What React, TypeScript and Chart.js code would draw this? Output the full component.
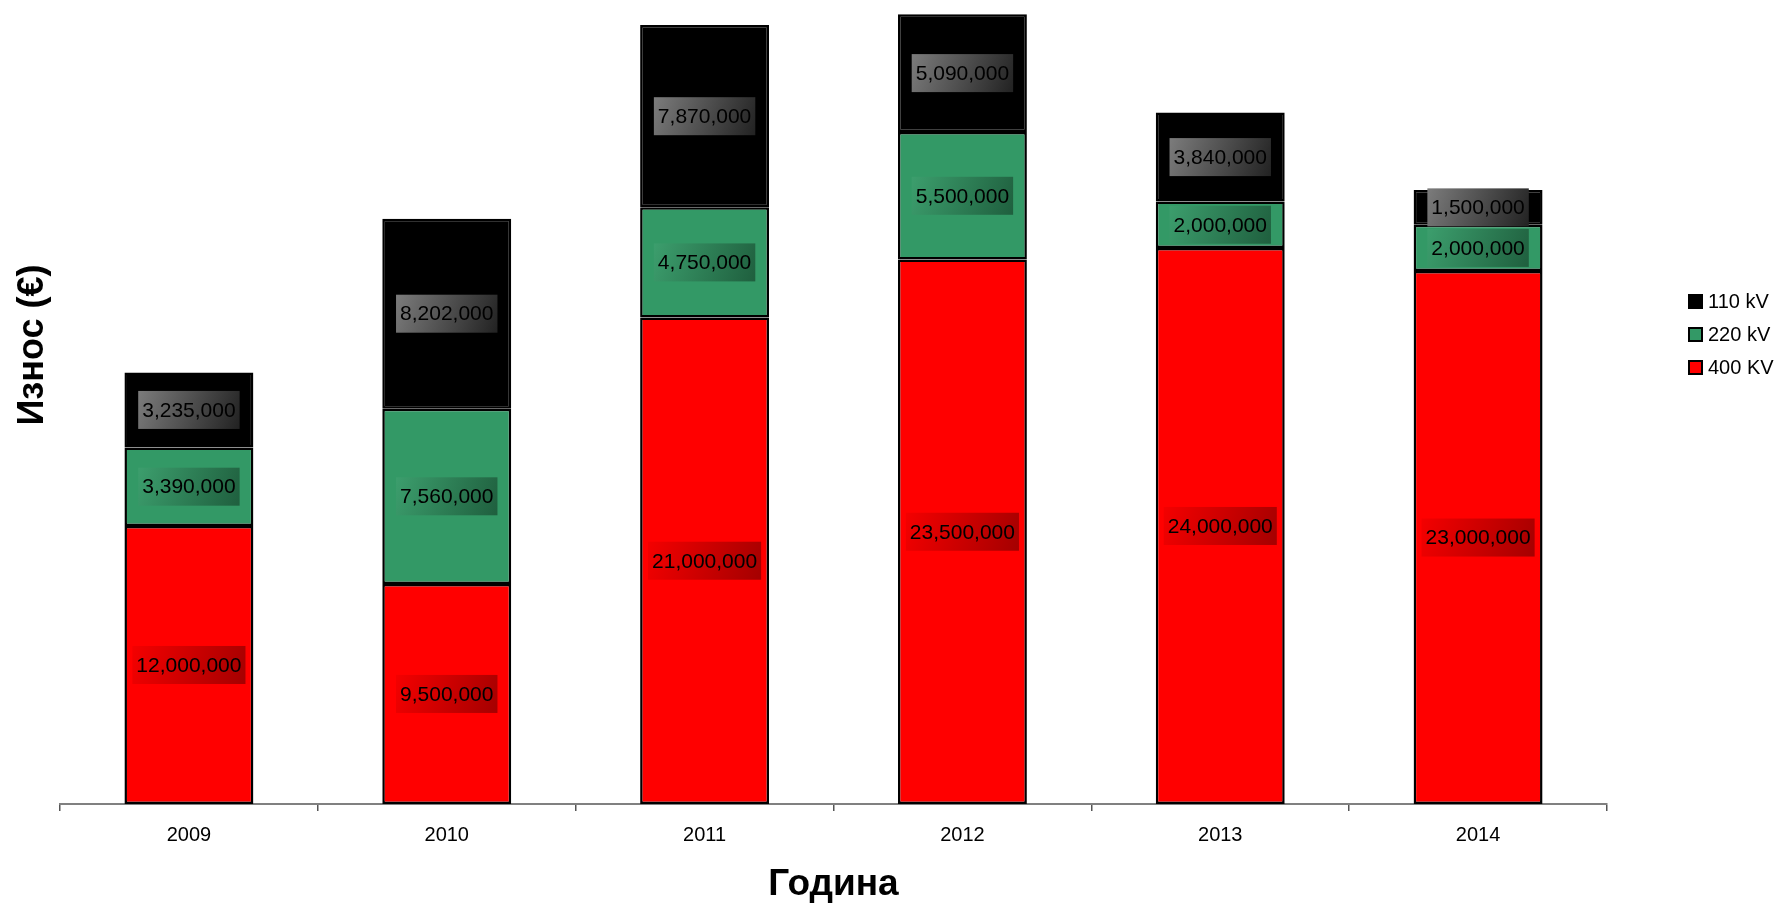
import { Chart, registerables } from "chart.js";
import type { Chart as ChartJS } from "chart.js";
import { useEffect, useRef } from "react";

Chart.register(...registerables);

// categories and series
const years = ["2009", "2010", "2011", "2012", "2013", "2014"];
const kv400 = [12000000, 9500000, 21000000, 23500000, 24000000, 23000000];
const kv220 = [3390000, 7560000, 4750000, 5500000, 2000000, 2000000];
const kv110 = [3235000, 8202000, 7870000, 5090000, 3840000, 1500000];
const seriesNames = ["400 KV", "220 kV", "110 kV"];

const FONT = "'Liberation Sans', Arial, sans-serif";
const barColors = ["#ff0000", "#339966", "#000000"];
// light -> dark shading of the value boxes
const boxShades = [
  ["#f40000", "#a40000"],
  ["#3c9e6d", "#1f5f3e"],
  ["#7c7c7c", "#222222"],
];

const fmt = (v: number) => v.toLocaleString("en-US");

const labelsPlugin = {
  id: "valueBoxes",
  afterDatasetsDraw(chart: ChartJS) {
    const ctx = chart.ctx;
    ctx.save();
    ctx.font = `21px ${FONT}`;
    ctx.textAlign = "center";
    ctx.textBaseline = "middle";
    chart.data.datasets.forEach((ds, i) => {
      const meta = chart.getDatasetMeta(i);
      meta.data.forEach((el: any, j: number) => {
        const v = ds.data[j] as number;
        const { x, y, base } = el.getProps(["x", "y", "base"], true);
        const cy = (y + base) / 2;
        const text = fmt(v);
        const w = ctx.measureText(text).width + 8;
        const h = 38;
        const g = ctx.createLinearGradient(x - w / 2, cy - h / 2, x + w / 2, cy + h / 2);
        g.addColorStop(0, boxShades[i][0]);
        g.addColorStop(1, boxShades[i][1]);
        ctx.fillStyle = g;
        ctx.fillRect(x - w / 2, cy - h / 2, w, h);
        ctx.fillStyle = "#000";
        ctx.fillText(text, x, cy + 1);
      });
    });
    ctx.restore();
  },
};

const decorPlugin = {
  id: "decor",
  afterDraw(chart: ChartJS) {
    const ctx = chart.ctx;
    ctx.save();
    // axis titles
    ctx.fillStyle = "#000";
    ctx.font = `bold 37px ${FONT}`;
    ctx.textAlign = "center";
    ctx.textBaseline = "alphabetic";
    const area = chart.chartArea;
    ctx.fillText("Година", (area.left + area.right) / 2, 895);
    ctx.save();
    ctx.translate(43, 345);
    ctx.rotate(-Math.PI / 2);
    ctx.font = `bold 36px ${FONT}`;
    ctx.fillText("Износ (€)", 0, 0);
    ctx.restore();

    // legend, top entry is the top of the stack
    ctx.font = `20px ${FONT}`;
    ctx.textAlign = "left";
    ctx.textBaseline = "middle";
    const order = [2, 1, 0];
    order.forEach((di, row) => {
      const cy = 301 + row * 33;
      ctx.fillStyle = barColors[di];
      ctx.fillRect(1688, cy - 7, 15, 15);
      ctx.strokeStyle = "#000";
      ctx.lineWidth = 2;
      ctx.strokeRect(1689, cy - 6, 13, 13);
      ctx.fillStyle = "#000";
      ctx.fillText(seriesNames[di], 1708, cy + 1);
    });
    ctx.restore();
  },
};

export default function App() {
  const canvasRef = useRef<HTMLCanvasElement>(null);
  const chartRef = useRef<ChartJS | null>(null);

  useEffect(() => {
    if (!canvasRef.current) return;
    chartRef.current?.destroy();

    const series = [kv400, kv220, kv110];
    chartRef.current = new Chart(canvasRef.current, {
      type: "bar",
      data: {
        labels: years,
        datasets: series.map((d, i) => ({
          label: seriesNames[i],
          data: d,
          backgroundColor: barColors[i],
          borderColor: "#000",
          borderWidth: 2.5,
          borderSkipped: false,
          categoryPercentage: 1,
          barPercentage: 0.5,
        })),
      },
      options: {
        animation: false,
        responsive: true,
        maintainAspectRatio: false,
        layout: { padding: { left: 60, right: 173, top: 0, bottom: 0 } },
        plugins: {
          legend: { display: false },
          tooltip: { enabled: false },
        },
        scales: {
          x: {
            stacked: true,
            afterFit: (scale: any) => {
              scale.height = 99;
            },
            grid: {
              display: true,
              drawOnChartArea: false,
              offset: true,
              tickLength: 7,
              color: "#555",
              lineWidth: 1.5,
            },
            border: { display: true, color: "#808080", width: 2 },
            ticks: {
              color: "#000",
              padding: 12,
              font: { family: FONT, size: 20 },
            },
          },
          y: {
            stacked: true,
            display: false,
            min: 0,
            max: 34700000,
          },
        },
      },
      plugins: [labelsPlugin, decorPlugin],
    });

    return () => {
      chartRef.current?.destroy();
    };
  }, []);

  return (
    <div
      style={{
        position: "fixed",
        left: 0,
        top: 0,
        width: 1780,
        height: 903,
        background: "#fff",
      }}
    >
      <canvas ref={canvasRef}></canvas>
    </div>
  );
}
